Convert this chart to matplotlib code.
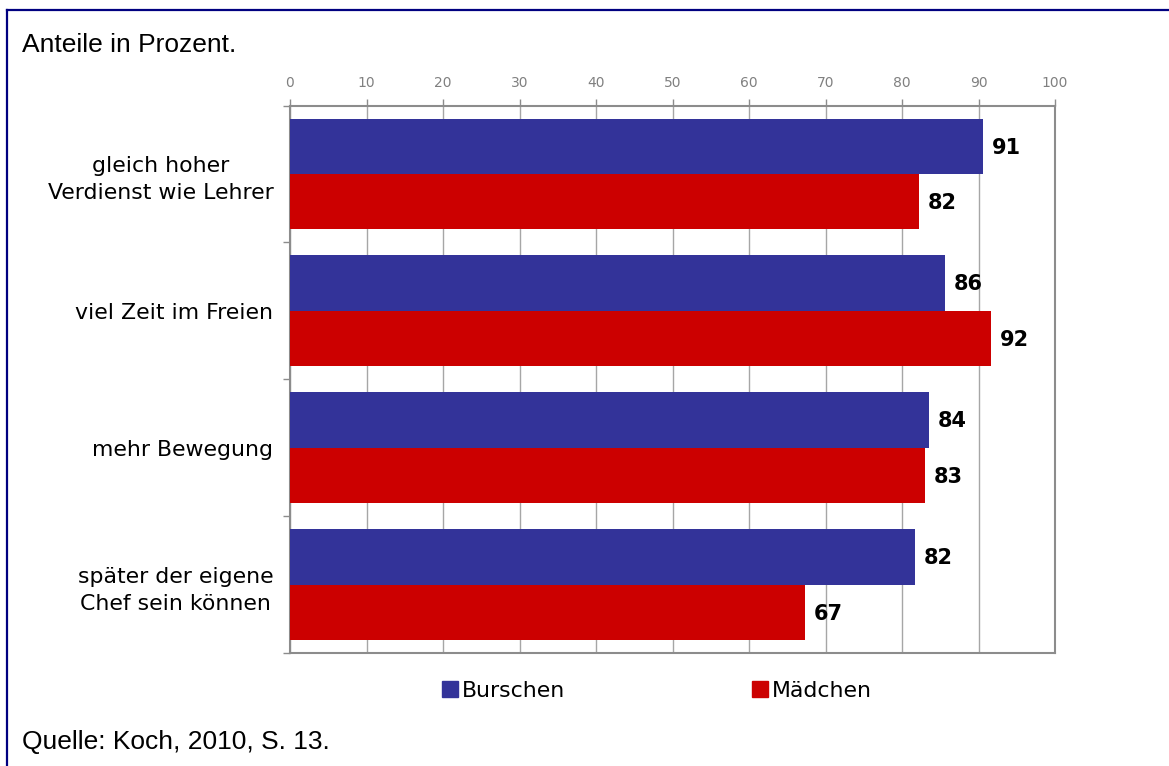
import numpy as np
import matplotlib
matplotlib.use("Agg")
import matplotlib.pyplot as plt
from matplotlib.lines import Line2D
from matplotlib.patches import Patch

# data
categories = ["gleich hoher\nVerdienst wie Lehrer", "viel Zeit im Freien",
              "mehr Bewegung", "später der eigene\nChef sein können"]
burschen = [90.6, 85.6, 83.5, 81.7]
maedchen = [82.2, 91.6, 83.0, 67.3]
series_names = ["Burschen", "Mädchen"]
xticks = [0, 10, 20, 30, 40, 50, 60, 70, 80, 90, 100]

blue = "#333399"
red = "#cc0000"
gray = "#8c8c8c"

W, H = 1169, 766
fig = plt.figure(figsize=(W / 100, H / 100), dpi=100)
ax = fig.add_axes([290 / W, 1 - 653 / H, 765 / W, 547.5 / H])

y = np.arange(len(categories))
bh = 0.405
b1 = ax.barh(y - bh / 2, burschen, height=bh, color=blue, zorder=3)
b2 = ax.barh(y + bh / 2, maedchen, height=bh, color=red, zorder=3)

for bars, vals in ((b1, burschen), (b2, maedchen)):
    for rect, v in zip(bars, vals):
        ax.text(v + 1.2, rect.get_y() + rect.get_height() / 2 + 0.01, f"{v:.0f}",
                va="center", ha="left", fontsize=15, fontweight="bold",
                color="black")

ax.set_xlim(0, 100)
ax.set_ylim(len(categories) - 0.5, -0.5)
ax.xaxis.tick_top()
ax.set_xticks(xticks)
ax.tick_params(axis="x", direction="out", length=5, width=1, color=gray,
               labelcolor="#808080", labelsize=10, pad=6)
ax.grid(axis="x", color="#a6a6a6", linewidth=1, zorder=0)

ax.set_yticks(y)
ax.set_yticklabels(categories)
ax.set_yticks(np.arange(len(categories) + 1) - 0.5, minor=True)
ax.tick_params(axis="y", which="major", length=0, pad=12, labelsize=15.8)
ax.tick_params(axis="y", which="minor", length=5, width=1, color=gray)
for lbl in ax.get_yticklabels():
    lbl.set_multialignment("center")
    lbl.set_linespacing(1.45)

for sp in ax.spines.values():
    sp.set_color(gray)
    sp.set_linewidth(1.5)

handles = [Patch(color=blue, label=series_names[0]),
           Patch(color=red, label=series_names[1])]
fig.legend(handles=handles, loc="center", bbox_to_anchor=(657 / W, 1 - 691 / H),
           ncol=2, frameon=False, fontsize=15.8, handlelength=0.73,
           handleheight=0.73, handletextpad=0.2, columnspacing=8.5)

fig.text(22 / W, 1 - 52 / H, "Anteile in Prozent.", family="Liberation Sans",
         fontsize=19, ha="left", va="baseline")
fig.text(22 / W, 1 - 749 / H, "Quelle: Koch, 2010, S. 13.", family="Liberation Sans",
         fontsize=19, ha="left", va="baseline")

# dark blue frame (top and left edge)
fig.add_artist(Line2D([6.5 / W, 1], [1 - 10 / H, 1 - 10 / H], color="#000080",
                      linewidth=1.6, transform=fig.transFigure))
fig.add_artist(Line2D([6.5 / W, 6.5 / W], [0, 1 - 10 / H], color="#000080",
                      linewidth=1.6, transform=fig.transFigure))

fig.savefig("out.png", dpi=100)
